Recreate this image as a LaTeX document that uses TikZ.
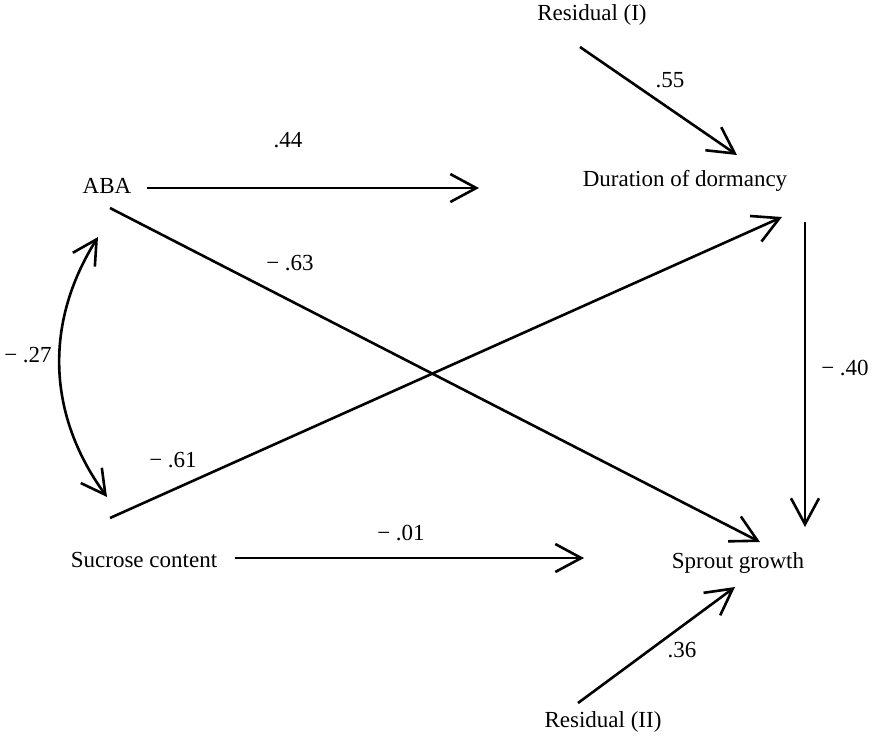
\documentclass[tikz,border=0pt]{standalone}
\usepackage{fontspec}
\setmainfont{Liberation Serif}
\usepackage{tikz}
\usetikzlibrary{arrows,arrows.meta,shapes}

\begin{document}
\begin{tikzpicture}[x=0.5pt,y=-0.5pt,
    font=\fontsize{11.5}{13}\selectfont,
    var/.style={inner sep=0pt},
    coef/.style={inner sep=0pt},
    effect/.style={line width=1.3pt,-{Straight Barb[length=13pt,width=14pt]}},
    corr/.style={line width=1.3pt,{Straight Barb[length=12pt,width=13pt]}-{Straight Barb[length=12pt,width=13pt]}}]
    \useasboundingbox (0,0) rectangle (873,736);
    \node[var] (res1) at (592,15) {Residual (I)};
    \node[var] (aba) at (107,186) {ABA};
    \node[var] (dur) at (685,181) {Duration of dormancy};
    \node[var] (suc) at (144,560) {Sucrose content};
    \node[var] (spr) at (738,563) {Sprout growth};
    \node[var] (res2) at (603,722) {Residual (II)};

    \node[coef] (c55) at (670,80) {.55};
    \node[coef] (c44) at (288,140) {.44};
    \node[coef] (c63) at (290,263) {− .63};
    \node[coef] (c61) at (173,460) {− .61};
    \node[coef] (c27) at (28,355) {− .27};
    \node[coef] (c40) at (845,368) {− .40};
    \node[coef] (c01) at (401,533) {− .01};
    \node[coef] (c36) at (682,650) {.36};

    \draw[effect] ([shift={(-12,32)}]res1.center) -- ([shift={(52,-26)}]dur.center);
    \draw[effect] ([shift={(40,2)}]aba.center) -- ([shift={(-206,7)}]dur.center);
    \draw[effect] ([shift={(3,22)}]aba.center) -- ([shift={(22,-21)}]spr.center);
    \draw[effect] ([shift={(-34,-42)}]suc.center) -- ([shift={(97,36)}]dur.center);
    \draw[effect] ([shift={(120,41)}]dur.center) -- ([shift={(67,-36)}]spr.center);
    \draw[corr] ([shift={(-9,51)}]aba.center) to[bend right=34] ([shift={(-37,-63)}]suc.center);
    \draw[effect] ([shift={(91,-2)}]suc.center) -- ([shift={(-154,-5)}]spr.center);
    \draw[effect] ([shift={(-25,-19)}]res2.center) -- ([shift={(-3,24)}]spr.center);
\end{tikzpicture}
\end{document}
